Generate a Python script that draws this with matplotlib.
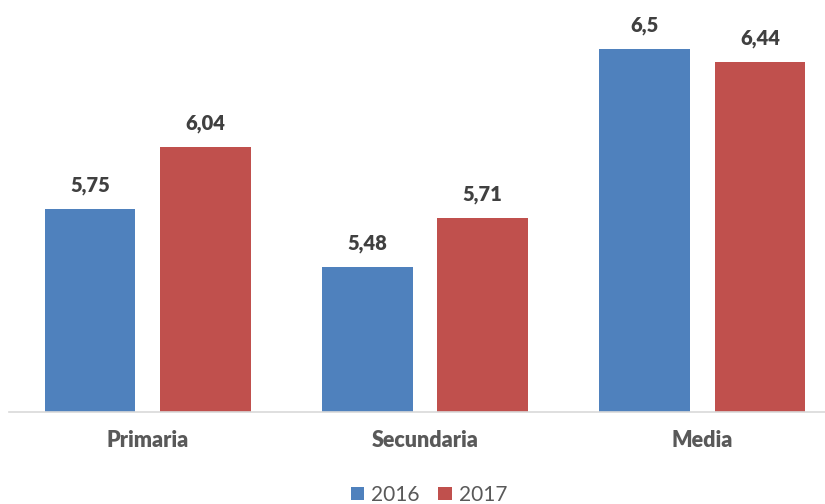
import matplotlib
matplotlib.use("Agg")
import matplotlib.pyplot as plt
import numpy as np
from matplotlib.patches import Patch

categories = ["Primaria", "Secundaria", "Media"]
series_names = ["2016", "2017"]
values_2016 = [5.75, 5.48, 6.5]
values_2017 = [6.04, 5.71, 6.44]
labels_2016 = ["5,75", "5,48", "6,5"]
labels_2017 = ["6,04", "5,71", "6,44"]

blue = "#4F81BD"
red = "#C0504D"

plt.rcParams['font.family'] = ['Lato', 'DejaVu Sans']

fig = plt.figure(figsize=(8.25, 5.04), dpi=100)
ax = fig.add_axes([9/825, 92/504, 816/825, 405.7/504])

x = np.arange(len(categories))
w = 0.327
off = 0.208
b1 = ax.bar(x - off, values_2016, w, color=blue)
b2 = ax.bar(x + off, values_2017, w, color=red)

ax.set_ylim(4.8, 6.7)
ax.set_xlim(-0.5, -0.5 + 816/277.3)

for rects, labs in ((b1, labels_2016), (b2, labels_2017)):
    for r, lab in zip(rects, labs):
        ax.annotate(lab, (r.get_x() + r.get_width()/2, r.get_height()),
                    xytext=(0, 10), textcoords='offset points',
                    ha='center', va='bottom', fontsize=14.5, fontweight='heavy',
                    color='#404040')

for s in ['top', 'right', 'left']:
    ax.spines[s].set_visible(False)
ax.spines['bottom'].set_color('#D9D9D9')
ax.spines['bottom'].set_linewidth(1.2)
ax.set_yticks([])
ax.set_xticks(x)
ax.set_xticklabels(categories, fontsize=15.5, fontweight='heavy', color='#595959')
ax.tick_params(axis='x', length=0, pad=13)

handles = [Patch(facecolor=blue), Patch(facecolor=red)]
fig.legend(handles, series_names, loc='center', bbox_to_anchor=(429/825, 1 - 495/504),
           ncol=2, frameon=False, fontsize=15, labelcolor='#595959',
           handlelength=0.63, handleheight=0.63, handletextpad=0.34,
           columnspacing=0.9, borderpad=0, borderaxespad=0)

fig.savefig("out.png", dpi=100)
